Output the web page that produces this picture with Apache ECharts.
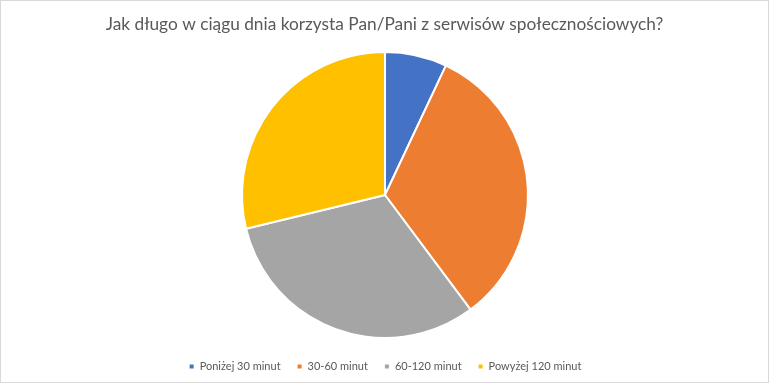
<!DOCTYPE html>
<html><head><meta charset="utf-8">
<script src="https://cdn.jsdelivr.net/npm/echarts@6/dist/echarts.min.js"></script>
<style>html,body{margin:0;padding:0;background:#fff}#c{position:absolute;left:0;top:0;width:767px;height:381px;border:1px solid #d9d9d9}</style>
</head><body><div id="c"></div>
<script>
const categories = ['Poniżej 30 minut', '30-60 minut', '60-120 minut', 'Powyżej 120 minut'];
const values = [7, 32.8, 31.4, 28.8];
const colors = ['#4472c4', '#ed7d31', '#a5a5a5', '#ffc000'];
const chart = echarts.init(document.getElementById('c'));
chart.setOption({
  animation: false,
  title: {
    text: 'Jak długo w ciągu dnia korzysta Pan/Pani z serwisów społecznościowych?',
    left: 'center', top: 10,
    textStyle: {fontFamily: 'Lato', fontSize: 17.3, fontWeight: 'normal', color: '#595959'}
  },
  legend: {
    top: 355, left: 'center',
    icon: 'rect', itemWidth: 6, itemHeight: 6, itemGap: 15,
    textStyle: {fontFamily: 'Lato', fontSize: 11, color: '#595959', padding: [0, 0, 0, 0]},
    data: categories
  },
  series: [{
    type: 'pie',
    center: [384, 194], radius: 143,
    startAngle: 90, clockwise: true,
    label: {show: false}, labelLine: {show: false},
    itemStyle: {borderColor: '#fff', borderWidth: 2},
    emphasis: {disabled: true},
    data: categories.map((n, i) => ({name: n, value: values[i], itemStyle: {color: colors[i]}}))
  }]
});
</script></body></html>
